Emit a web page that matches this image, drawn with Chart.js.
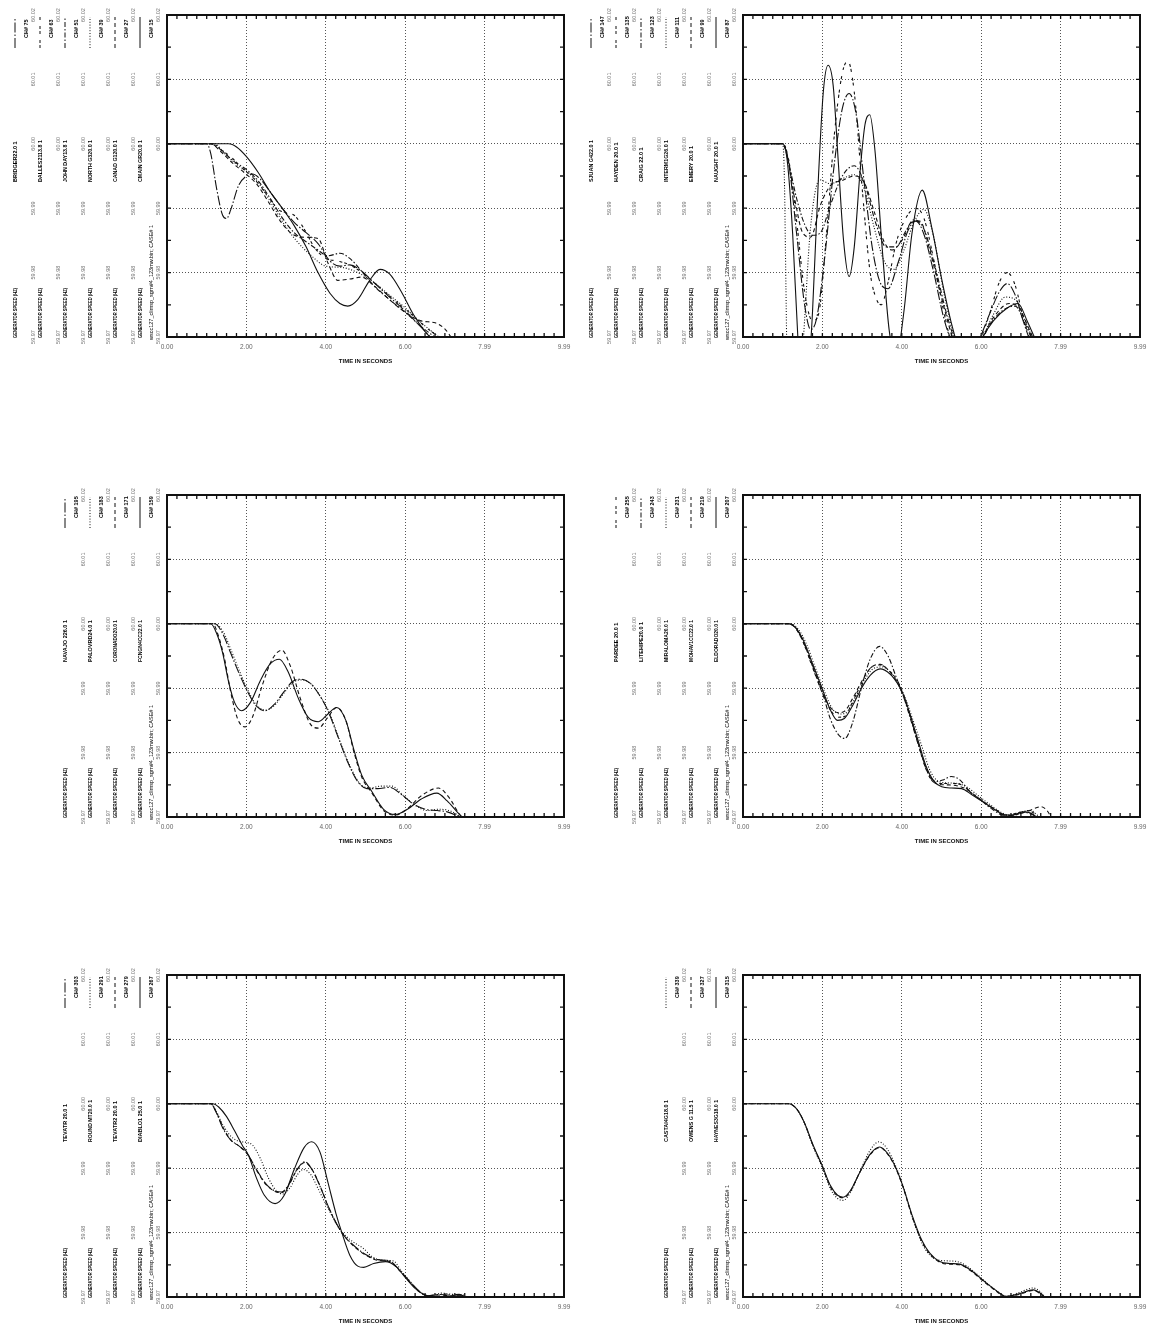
<!DOCTYPE html>
<html>
<head>
<meta charset="utf-8">
<script src="https://cdn.jsdelivr.net/npm/chart.js@4.4.0/dist/chart.umd.min.js"></script>
<style>
  html, body { margin: 0; padding: 0; background: #fff; }
  body { position: relative; width: 1156px; height: 1327px; overflow: hidden; }
  canvas { position: absolute; }
</style>
</head>
<body>
<canvas id="c1" width="578" height="372" style="left:0px;top:0px"></canvas>
<canvas id="c2" width="578" height="372" style="left:578px;top:0px"></canvas>
<canvas id="c3" width="578" height="372" style="left:0px;top:480px"></canvas>
<canvas id="c4" width="578" height="372" style="left:578px;top:480px"></canvas>
<canvas id="c5" width="578" height="372" style="left:0px;top:960px"></canvas>
<canvas id="c6" width="578" height="372" style="left:578px;top:960px"></canvas>
<script>
// ---- axis labels ----
const xTickValues = [0, 1.998, 3.996, 5.994, 7.992, 9.99];
const xTickLabels = ["0.00", "2.00", "4.00", "6.00", "7.99", "9.99"];
const yMin = 59.97;
const yMax = 60.02;
const yTitle = "GENERATOR SPEED (HZ)";
const xTitle = "TIME IN SECONDS";
const fileLabel = "wscc127_climsp_sgrn#4_123mw.bin; CASE# 1";

// ---- panel 1 : [time s, speed Hz] ----
const bridger = [[0,60.0],[1.0,60.0],[1.1,59.9985],[1.25,59.993],[1.4,59.9889],[1.5,59.9884],[1.6,59.9897],[1.8,59.9935],[2.0,59.995],[2.15,59.9953],[2.35,59.9945],[2.6,59.9925],[2.9,59.99],[3.2,59.9878],[3.5,59.9862],[3.8,59.9845],[4.1,59.9818],[4.35,59.981],[4.6,59.9812],[4.9,59.9802],[5.2,59.9785],[5.6,59.9762],[6.0,59.974],[6.4,59.9715],[6.7,59.9695]];
const dalles = [[0,60.0],[1.1,60.0],[1.3,59.9993],[1.6,59.998],[1.9,59.9962],[2.2,59.9945],[2.5,59.9922],[2.8,59.9898],[3.0,59.9893],[3.2,59.9889],[3.45,59.9868],[3.7,59.984],[4.0,59.9822],[4.3,59.9818],[4.6,59.9812],[4.95,59.9798],[5.3,59.978],[5.7,59.9758],[6.1,59.9738],[6.5,59.9716],[6.9,59.9697]];
const johnDay = [[0,60.0],[1.15,60.0],[1.4,59.9988],[1.7,59.9972],[2.0,59.996],[2.3,59.9942],[2.6,59.9915],[2.9,59.9885],[3.2,59.9862],[3.5,59.9848],[3.8,59.9835],[4.05,59.9826],[4.35,59.983],[4.6,59.9822],[4.9,59.9802],[5.2,59.978],[5.6,59.9758],[6.0,59.9738],[6.4,59.9716],[6.8,59.9697]];
const northG = [[0,60.0],[1.2,60.0],[1.45,59.9985],[1.75,59.9968],[2.05,59.9955],[2.35,59.9935],[2.65,59.9905],[2.95,59.9875],[3.25,59.985],[3.6,59.9828],[4.0,59.981],[4.4,59.9808],[4.8,59.98],[5.2,59.9785],[5.6,59.9765],[6.0,59.9745],[6.4,59.9722],[6.8,59.9702],[7.0,59.9692]];
const canadG = [[0,60.0],[1.1,60.0],[1.35,59.9988],[1.65,59.997],[1.95,59.9955],[2.25,59.9938],[2.55,59.991],[2.85,59.988],[3.15,59.986],[3.45,59.9855],[3.8,59.9853],[4.05,59.9815],[4.3,59.9788],[4.6,59.979],[4.9,59.9793],[5.2,59.978],[5.6,59.9758],[6.0,59.9738],[6.4,59.9725],[6.75,59.9722],[7.0,59.9712],[7.2,59.9695]];
const cmainGr = [[0,60.0],[1.55,60.0],[1.75,59.9995],[2.0,59.998],[2.3,59.9955],[2.6,59.9925],[2.9,59.99],[3.2,59.9873],[3.5,59.984],[3.8,59.98],[4.1,59.9768],[4.35,59.9752],[4.55,59.9748],[4.8,59.9758],[5.1,59.9788],[5.36,59.9805],[5.6,59.9798],[5.9,59.977],[6.2,59.9735],[6.5,59.9708],[6.75,59.9692]];
const panel1Names = ["BRIDGER22.0 1", "DALLES2113.8 1", "JOHN DAY13.8 1", "NORTH G320.0 1", "CANAD G120.0 1", "CMAIN GR20.0 1"];
const panel1Channels = [75, 63, 51, 39, 27, 15];

// ---- panel 2 ----
const sjuan = [[0,60.0],[1.0,60.0],[1.15,59.997],[1.35,59.986],[1.55,59.975],[1.7,59.9712],[1.85,59.9728],[2.05,59.982],[2.3,59.997],[2.5,60.0055],[2.67,60.0078],[2.85,60.0045],[3.05,59.994],[3.25,59.984],[3.45,59.9785],[3.65,59.9775],[3.9,59.9815],[4.15,59.9865],[4.35,59.988],[4.55,59.986],[4.8,59.98],[5.05,59.973],[5.3,59.9685],[5.6,59.9665],[5.9,59.969],[6.2,59.9735],[6.45,59.977],[6.65,59.9783],[6.85,59.9765],[7.05,59.9725],[7.3,59.968]];
const hayden = [[0,60.0],[1.0,60.0],[1.15,59.9975],[1.35,59.988],[1.55,59.977],[1.75,59.9725],[1.9,59.9735],[2.1,59.986],[2.3,60.0015],[2.5,60.011],[2.64,60.0128],[2.8,60.008],[3.0,59.993],[3.2,59.98],[3.35,59.976],[3.48,59.975],[3.65,59.9785],[3.85,59.9845],[4.1,59.9885],[4.35,59.99],[4.55,59.9885],[4.8,59.982],[5.05,59.974],[5.3,59.968],[5.6,59.966],[5.9,59.9685],[6.2,59.9735],[6.45,59.9785],[6.65,59.98],[6.85,59.978],[7.05,59.973],[7.3,59.968]];
const craig = [[0,60.0],[1.0,60.0],[1.15,59.997],[1.35,59.9915],[1.55,59.9875],[1.75,59.9858],[1.95,59.9862],[2.2,59.9905],[2.5,59.995],[2.8,59.9966],[3.05,59.994],[3.35,59.9875],[3.6,59.984],[3.85,59.984],[4.1,59.9865],[4.3,59.9882],[4.55,59.9868],[4.85,59.9805],[5.15,59.973],[5.45,59.968],[5.8,59.9672],[6.2,59.9718],[6.55,59.9742],[6.85,59.9748],[7.1,59.972],[7.35,59.9685]];
const interm = [[0,60.0],[1.0,60.0],[1.04,59.995],[1.08,59.978],[1.12,59.962],[1.3,59.955],[1.5,59.968],[1.7,59.987],[1.93,59.9944],[2.2,59.9938],[2.5,59.9946],[2.8,59.9952],[3.05,59.993],[3.3,59.987],[3.55,59.9818],[3.8,59.9805],[4.05,59.9835],[4.3,59.9878],[4.55,59.9898],[4.8,59.9855],[5.05,59.977],[5.35,59.9695],[5.65,59.9668],[5.95,59.969],[6.3,59.9735],[6.6,59.9762],[6.85,59.9758],[7.1,59.9725],[7.35,59.9688]];
const emery = [[0,60.0],[1.0,60.0],[1.1,59.9985],[1.3,59.9915],[1.5,59.9862],[1.7,59.9855],[1.95,59.9905],[2.2,59.9935],[2.5,59.9943],[2.8,59.995],[3.05,59.994],[3.3,59.9895],[3.55,59.9848],[3.75,59.9835],[4.0,59.985],[4.25,59.9878],[4.45,59.988],[4.7,59.9835],[5.0,59.976],[5.3,59.9695],[5.6,59.9668],[5.95,59.9692],[6.3,59.973],[6.7,59.9752],[6.95,59.9745],[7.2,59.9712],[7.4,59.9685]];
const naught = [[0,60.0],[1.0,60.0],[1.12,59.997],[1.25,59.986],[1.38,59.97],[1.5,59.96],[1.62,59.962],[1.75,59.974],[1.9,59.995],[2.02,60.008],[2.14,60.0122],[2.27,60.009],[2.4,59.997],[2.53,59.985],[2.67,59.9794],[2.8,59.984],[2.95,59.996],[3.07,60.003],[3.19,60.0045],[3.32,59.999],[3.5,59.984],[3.68,59.971],[3.86,59.967],[4.05,59.974],[4.25,59.986],[4.51,59.9928],[4.75,59.987],[5.0,59.979],[5.25,59.972],[5.5,59.967],[5.75,59.966],[5.95,59.969],[6.3,59.9725],[6.65,59.9745],[6.92,59.9752],[7.15,59.9725],[7.4,59.969]];
const panel2Names = ["SJUAN G422.0 1", "HAYDEN 20.0 1", "CRAIG 22.0 1", "INTERM1G26.0 1", "EMERY 20.0 1", "NAUGHT 20.0 1"];
const panel2Channels = [147, 135, 123, 111, 99, 87];

// ---- panel 3 ----
const navajo = [[0,60.0],[1.2,60.0],[1.4,59.9985],[1.6,59.9955],[1.8,59.9925],[2.05,59.9892],[2.25,59.9872],[2.47,59.9865],[2.7,59.9875],[2.95,59.9895],[3.15,59.991],[3.35,59.9914],[3.6,59.9908],[3.85,59.9888],[4.05,59.9865],[4.3,59.9825],[4.55,59.9785],[4.8,59.9755],[5.03,59.9744],[5.3,59.9744],[5.6,59.9746],[5.9,59.9735],[6.2,59.972],[6.5,59.9712],[6.8,59.971],[7.05,59.9708],[7.3,59.9702],[7.5,59.9695]];
const paloVerde = [[0,60.0],[1.2,60.0],[1.42,59.9987],[1.62,59.9958],[1.82,59.9927],[2.05,59.9895],[2.25,59.9874],[2.47,59.9866],[2.7,59.9873],[2.95,59.9893],[3.15,59.9908],[3.4,59.9913],[3.65,59.9905],[3.9,59.9883],[4.1,59.986],[4.35,59.9818],[4.6,59.978],[4.85,59.9752],[5.1,59.9745],[5.4,59.9748],[5.65,59.9748],[5.95,59.9733],[6.25,59.9718],[6.55,59.971],[6.85,59.9712],[7.1,59.971],[7.35,59.9702],[7.5,59.9696]];
const coronado = [[0,60.0],[1.15,60.0],[1.3,59.998],[1.45,59.9945],[1.6,59.9895],[1.78,59.9852],[1.96,59.984],[2.15,59.9855],[2.4,59.9905],[2.65,59.9945],[2.89,59.9959],[3.1,59.9935],[3.35,59.9885],[3.6,59.9845],[3.81,59.9838],[4.05,59.9855],[4.27,59.987],[4.5,59.985],[4.7,59.9802],[4.9,59.9762],[5.15,59.9738],[5.45,59.971],[5.74,59.9703],[6.05,59.9713],[6.4,59.9733],[6.83,59.9745],[7.1,59.973],[7.35,59.9705],[7.5,59.9695]];
const fcngn = [[0,60.0],[1.1,60.0],[1.25,59.9985],[1.4,59.9955],[1.55,59.991],[1.7,59.9878],[1.88,59.9865],[2.1,59.9878],[2.35,59.9912],[2.6,59.9938],[2.83,59.9945],[3.05,59.9925],[3.3,59.9885],[3.55,59.9855],[3.81,59.9848],[4.05,59.986],[4.27,59.987],[4.5,59.985],[4.7,59.9805],[4.9,59.9765],[5.15,59.974],[5.45,59.9712],[5.74,59.9704],[6.05,59.9712],[6.4,59.9728],[6.79,59.9737],[7.05,59.9725],[7.3,59.9708],[7.5,59.9695]];
const panel3Names = ["NAVAJO 226.0 1", "PALOVRD24.0 1", "CORONADO20.0 1", "FCNGN4CC22.0 1"];
const panel3Channels = [195, 183, 171, 159];

// ---- panel 4 ----
const pardee = [[0,60.0],[1.15,60.0],[1.35,59.9991],[1.55,59.9966],[1.75,59.9932],[2.0,59.9893],[2.2,59.9866],[2.4,59.9855],[2.55,59.9856],[2.75,59.9878],[3.0,59.991],[3.22,59.9932],[3.45,59.9936],[3.7,59.9926],[3.9,59.991],[4.05,59.9888],[4.2,59.9858],[4.4,59.9815],[4.6,59.9775],[4.8,59.9754],[5.0,59.9752],[5.25,59.9752],[5.5,59.975],[5.75,59.9737],[6.0,59.9726],[6.3,59.9713],[6.6,59.9703],[6.9,59.9706],[7.15,59.971],[7.35,59.9705],[7.5,59.9697]];
const litehipe = [[0,60.0],[1.15,60.0],[1.35,59.9992],[1.55,59.9968],[1.75,59.9935],[2.0,59.9893],[2.2,59.9852],[2.4,59.9828],[2.56,59.9822],[2.75,59.9845],[3.0,59.9905],[3.2,59.9945],[3.44,59.9965],[3.65,59.995],[3.85,59.9918],[4.05,59.9885],[4.25,59.9845],[4.45,59.9805],[4.65,59.977],[4.85,59.9755],[5.05,59.9758],[5.24,59.9763],[5.45,59.9758],[5.7,59.974],[5.95,59.9728],[6.25,59.9713],[6.6,59.9702],[6.85,59.9703],[7.1,59.9707],[7.3,59.9703],[7.45,59.9697]];
const miraloma = [[0,60.0],[1.2,60.0],[1.4,59.9991],[1.6,59.9968],[1.8,59.9935],[2.05,59.9895],[2.25,59.9868],[2.45,59.986],[2.6,59.9862],[2.8,59.9882],[3.05,59.9912],[3.27,59.993],[3.5,59.9933],[3.75,59.9922],[3.95,59.9903],[4.1,59.9882],[4.28,59.985],[4.5,59.981],[4.7,59.9773],[4.9,59.9756],[5.15,59.9753],[5.4,59.9752],[5.65,59.9746],[5.9,59.9734],[6.2,59.972],[6.5,59.9707],[6.75,59.9703],[7.0,59.9708],[7.25,59.971],[7.4,59.9703],[7.55,59.9697]];
const mohave = [[0,60.0],[1.15,60.0],[1.35,59.9991],[1.55,59.9967],[1.75,59.9934],[1.98,59.9895],[2.2,59.987],[2.4,59.9862],[2.55,59.9864],[2.75,59.9883],[3.0,59.9912],[3.22,59.9932],[3.45,59.9937],[3.7,59.9925],[3.9,59.9907],[4.05,59.9885],[4.22,59.9855],[4.42,59.9812],[4.62,59.9773],[4.85,59.9752],[5.1,59.975],[5.35,59.9749],[5.6,59.9744],[5.85,59.9733],[6.1,59.9722],[6.4,59.971],[6.65,59.9702],[6.95,59.9705],[7.2,59.971],[7.5,59.9716],[7.65,59.971],[7.78,59.9697]];
const eldorado = [[0,60.0],[1.15,60.0],[1.35,59.9992],[1.55,59.997],[1.75,59.9938],[2.0,59.9898],[2.2,59.9866],[2.38,59.985],[2.55,59.9853],[2.75,59.9872],[3.0,59.9902],[3.2,59.992],[3.45,59.993],[3.7,59.9922],[3.9,59.9906],[4.05,59.9888],[4.2,59.986],[4.4,59.982],[4.6,59.978],[4.8,59.9756],[5.0,59.9747],[5.25,59.9745],[5.5,59.9744],[5.75,59.9735],[6.0,59.9725],[6.3,59.9713],[6.6,59.9703],[6.85,59.9704],[7.05,59.9708],[7.25,59.9706],[7.45,59.9697]];
const panel4Names = ["PARDEE 20.0 1", "LITEHIPE20.0 1", "MIRALOMA20.0 1", "MOHAV1CC22.0 1", "ELDORADO20.0 1"];
const panel4Channels = [255, 243, 231, 219, 207];

// ---- panel 5 ----
const tevatr = [[0,60.0],[1.1,60.0],[1.25,59.9985],[1.4,59.9963],[1.6,59.9944],[1.8,59.9935],[2.02,59.9923],[2.25,59.9898],[2.5,59.9875],[2.7,59.9865],[2.88,59.9863],[3.05,59.9873],[3.25,59.9896],[3.47,59.991],[3.65,59.9898],[3.85,59.9872],[4.1,59.9835],[4.4,59.98],[4.7,59.978],[5.0,59.9766],[5.3,59.9758],[5.6,59.9756],[5.85,59.9742],[6.1,59.9725],[6.35,59.9709],[6.55,59.9702],[6.85,59.9704],[7.1,59.9703],[7.35,59.9704],[7.55,59.9698]];
const roundMt = [[0,60.0],[1.1,60.0],[1.25,59.9987],[1.4,59.9968],[1.6,59.995],[1.8,59.9942],[2.0,59.994],[2.15,59.9936],[2.35,59.9915],[2.55,59.9885],[2.75,59.9865],[2.92,59.986],[3.1,59.987],[3.28,59.989],[3.43,59.9898],[3.62,59.989],[3.82,59.9866],[4.05,59.9838],[4.35,59.9805],[4.65,59.9787],[4.95,59.9775],[5.15,59.9763],[5.45,59.9757],[5.7,59.9756],[5.9,59.974],[6.15,59.9722],[6.4,59.9706],[6.6,59.9701],[6.9,59.9706],[7.2,59.9704],[7.45,59.9703],[7.6,59.9698]];
const tevatr2 = [[0,60.0],[1.1,60.0],[1.25,59.9986],[1.42,59.9962],[1.62,59.9943],[1.82,59.9934],[2.02,59.9922],[2.25,59.9897],[2.5,59.9874],[2.72,59.9864],[2.88,59.9862],[3.05,59.9872],[3.25,59.9895],[3.47,59.9909],[3.66,59.9897],[3.86,59.9871],[4.1,59.9834],[4.4,59.98],[4.7,59.9779],[5.0,59.9765],[5.3,59.9757],[5.6,59.9755],[5.85,59.9741],[6.1,59.9724],[6.35,59.9708],[6.55,59.9702],[6.85,59.9703],[7.15,59.9702],[7.4,59.9703],[7.55,59.9698]];
const diablo = [[0,60.0],[1.15,60.0],[1.3,59.9995],[1.5,59.998],[1.7,59.9958],[1.9,59.9935],[2.05,59.992],[2.25,59.9885],[2.45,59.9858],[2.72,59.9845],[2.95,59.9858],[3.2,59.9898],[3.45,59.9932],[3.64,59.9941],[3.85,59.9925],[4.05,59.9878],[4.25,59.983],[4.4,59.98],[4.6,59.9765],[4.8,59.9748],[4.95,59.9746],[5.2,59.9752],[5.5,59.9755],[5.75,59.9748],[6.0,59.973],[6.25,59.9713],[6.5,59.9703],[6.8,59.97],[7.1,59.9701],[7.4,59.9702],[7.6,59.9698]];
const panel5Names = ["TEVATR 20.0 1", "ROUND MT20.0 1", "TEVATR2 20.0 1", "DIABLO1 25.0 1"];
const panel5Channels = [303, 291, 279, 267];

// ---- panel 6 ----
const castaic = [[0,60.0],[1.15,60.0],[1.35,59.9992],[1.55,59.9969],[1.75,59.9936],[2.0,59.99],[2.2,59.9868],[2.38,59.9853],[2.52,59.985],[2.7,59.9862],[2.95,59.9896],[3.2,59.9928],[3.42,59.9941],[3.63,59.993],[3.83,59.9905],[4.02,59.9874],[4.25,59.9826],[4.5,59.9784],[4.7,59.9765],[4.95,59.9757],[5.2,59.9756],[5.45,59.9754],[5.7,59.9745],[6.04,59.9727],[6.35,59.9711],[6.63,59.9701],[6.95,59.9707],[7.3,59.9714],[7.5,59.9707],[7.63,59.9697]];
const owensG = [[0,60.0],[1.15,60.0],[1.35,59.9992],[1.55,59.997],[1.75,59.9937],[2.0,59.9902],[2.2,59.9871],[2.38,59.9857],[2.52,59.9854],[2.7,59.9864],[2.95,59.9895],[3.2,59.9921],[3.44,59.9932],[3.65,59.9921],[3.85,59.9899],[4.03,59.987],[4.25,59.9826],[4.5,59.9786],[4.7,59.9767],[4.95,59.9754],[5.2,59.9751],[5.45,59.975],[5.7,59.9742],[6.04,59.9725],[6.35,59.971],[6.63,59.97],[6.95,59.9704],[7.3,59.971],[7.5,59.9704],[7.63,59.9696]];
const haynes = [[0,60.0],[1.15,60.0],[1.35,59.9992],[1.55,59.997],[1.75,59.9938],[2.0,59.9903],[2.2,59.9873],[2.38,59.9858],[2.52,59.9855],[2.7,59.9865],[2.95,59.9895],[3.2,59.9922],[3.44,59.9933],[3.65,59.9922],[3.85,59.99],[4.03,59.9871],[4.25,59.9828],[4.5,59.9788],[4.7,59.9768],[4.95,59.9755],[5.2,59.9752],[5.45,59.9751],[5.7,59.9743],[6.04,59.9726],[6.35,59.9711],[6.63,59.9701],[6.95,59.9705],[7.3,59.9711],[7.5,59.9705],[7.63,59.9697]];
const panel6Names = ["CASTAI4G18.0 1", "OWENS G 11.5 1", "HAYNES3G18.0 1"];
const panel6Channels = [339, 327, 315];

// line styles
const dashes = {
  longDashDot: [10, 2, 1.5, 2],
  dashPair: [3, 2, 3, 6],
  dashDot: [5, 2, 1.5, 2],
  dotted: [1, 1.8],
  dashed: [4, 3],
  solid: []
};

const FONT = "'Liberation Sans', Arial, sans-serif";
const GROUP_W = 25;
const PLOT_W = 397;

const panels = [
  { canvas: "c1", plotLeft: 167, names: panel1Names, channels: panel1Channels,
    series: [bridger, dalles, johnDay, northG, canadG, cmainGr],
    styles: ["longDashDot", "dashPair", "dashDot", "dotted", "dashed", "solid"] },
  { canvas: "c2", plotLeft: 165, names: panel2Names, channels: panel2Channels,
    series: [sjuan, hayden, craig, interm, emery, naught],
    styles: ["longDashDot", "dashPair", "dashDot", "dotted", "dashed", "solid"] },
  { canvas: "c3", plotLeft: 167, names: panel3Names, channels: panel3Channels,
    series: [navajo, paloVerde, coronado, fcngn],
    styles: ["longDashDot", "dotted", "dashed", "solid"] },
  { canvas: "c4", plotLeft: 165, names: panel4Names, channels: panel4Channels,
    series: [pardee, litehipe, miraloma, mohave, eldorado],
    styles: ["dashPair", "dashDot", "dotted", "dashed", "solid"] },
  { canvas: "c5", plotLeft: 167, names: panel5Names, channels: panel5Channels,
    series: [tevatr, roundMt, tevatr2, diablo],
    styles: ["longDashDot", "dotted", "dashed", "solid"] },
  { canvas: "c6", plotLeft: 165, names: panel6Names, channels: panel6Channels,
    series: [castaic, owensG, haynes],
    styles: ["dotted", "dashed", "solid"] }
];

function vText(ctx, text, x, y, font, color, maxW) {
  ctx.save();
  ctx.translate(x, y);
  ctx.rotate(-Math.PI / 2);
  ctx.font = font;
  ctx.fillStyle = color;
  ctx.textAlign = "left";
  ctx.textBaseline = "middle";
  if (maxW) ctx.fillText(text, 0, 0, maxW);
  else ctx.fillText(text, 0, 0);
  ctx.restore();
}

function vTextCentered(ctx, text, x, y, font, color) {
  ctx.save();
  ctx.translate(x, y);
  ctx.rotate(-Math.PI / 2);
  ctx.font = font;
  ctx.fillStyle = color;
  ctx.textAlign = "center";
  ctx.textBaseline = "middle";
  ctx.fillText(text, 0, 0);
  ctx.restore();
}

// frame, inner minor ticks and the stacked left-hand channel captions
const panelDecor = {
  id: "panelDecor",
  afterDraw(chart) {
    const p = chart.options.plugins.panelDecor.panel;
    const ctx = chart.ctx;
    const a = chart.chartArea;
    const xs = chart.scales.x;
    const ys = chart.scales.y;
    const n = p.names.length;

    ctx.save();
    ctx.strokeStyle = "#111";
    ctx.lineWidth = 1.3;
    ctx.beginPath();
    for (let k = 0; k <= 40; k++) {
      const px = xs.getPixelForValue(k * 9.99 / 40);
      ctx.moveTo(px, a.bottom); ctx.lineTo(px, a.bottom - 4);
      ctx.moveTo(px, a.top); ctx.lineTo(px, a.top + 4);
    }
    for (let k = 0; k <= 10; k++) {
      const py = ys.getPixelForValue(yMin + k * 0.005);
      ctx.moveTo(a.left, py); ctx.lineTo(a.left + 4, py);
      ctx.moveTo(a.right, py); ctx.lineTo(a.right - 4, py);
    }
    ctx.stroke();
    ctx.lineWidth = 2;
    ctx.strokeRect(a.left, a.top, a.right - a.left, a.bottom - a.top);
    ctx.restore();

    const bold = "bold 5.5px " + FONT;
    for (let i = 0; i < n; i++) {
      const sc = chart.scales[i === n - 1 ? "y" : "g" + i];
      const nameX = sc.left - 2;
      const chX = sc.left + 9;
      const tickX = sc.left + 16;
      vText(ctx, yTitle, nameX, a.bottom + 1, bold, "#000", 50);
      vText(ctx, p.names[i], nameX, a.top + 167, bold, "#000", 42);
      vText(ctx, "CH# " + p.channels[i], chX, a.top + 23, bold, "#000");
      ctx.save();
      ctx.strokeStyle = "#111";
      ctx.lineWidth = 1;
      ctx.setLineDash(dashes[p.styles[i]]);
      ctx.beginPath();
      ctx.moveTo(nameX, a.top + 33);
      ctx.lineTo(nameX, a.top + 2);
      ctx.stroke();
      ctx.restore();
      sc.ticks.forEach(t => {
        vTextCentered(ctx, t.value.toFixed(2), tickX, sc.getPixelForValue(t.value), "5.5px " + FONT, "#777");
      });
      if (i === n - 1) {
        vText(ctx, fileLabel, chX, a.bottom + 3, "5.5px " + FONT, "#000", 117);
      }
    }
  }
};

function buildChart(p) {
  const n = p.names.length;
  const scales = {
    x: {
      type: "linear", position: "bottom", min: 0, max: 9.99,
      afterBuildTicks: s => { s.ticks = xTickValues.map(v => ({ value: v })); },
      ticks: {
        autoSkip: false, maxRotation: 0, padding: 6,
        font: { family: FONT, size: 6.5 }, color: "#666",
        callback: (v, i) => xTickLabels[i]
      },
      grid: { color: "#555", lineWidth: 1, drawTicks: false },
      border: { display: false, dash: [1, 2] },
      title: { display: true, text: xTitle, color: "#111",
        font: { family: FONT, size: 6, weight: "bold" }, padding: { top: 2, bottom: 2 } },
      afterFit: s => { s.height = 30; }
    }
  };
  for (let i = 0; i < n; i++) {
    const id = i === n - 1 ? "y" : "g" + i;
    scales[id] = {
      type: "linear", position: "left", min: yMin, max: yMax, weight: n - i,
      ticks: { display: false, stepSize: 0.01 },
      grid: { display: id === "y", color: "#555", lineWidth: 1, drawTicks: false },
      border: { display: false, dash: [1, 2] },
      afterFit: s => { s.width = GROUP_W; }
    };
  }
  const datasets = p.series.map((data, i) => ({
    label: p.names[i],
    data: data,
    xAxisID: "x",
    yAxisID: "y",
    borderColor: "#111",
    borderWidth: 1.1,
    borderDash: dashes[p.styles[i]],
    pointRadius: 0,
    fill: false,
    cubicInterpolationMode: "monotone"
  }));
  new Chart(document.getElementById(p.canvas).getContext("2d"), {
    type: "line",
    data: { datasets: datasets },
    options: {
      responsive: false,
      animation: false,
      devicePixelRatio: 1,
      layout: {
        padding: {
          left: p.plotLeft - n * GROUP_W,
          top: 15,
          right: 578 - p.plotLeft - PLOT_W,
          bottom: 372 - 337 - 30
        }
      },
      scales: scales,
      plugins: {
        legend: { display: false },
        tooltip: { enabled: false },
        panelDecor: { panel: p }
      }
    },
    plugins: [panelDecor]
  });
}

panels.forEach(buildChart);
</script>
</body>
</html>
